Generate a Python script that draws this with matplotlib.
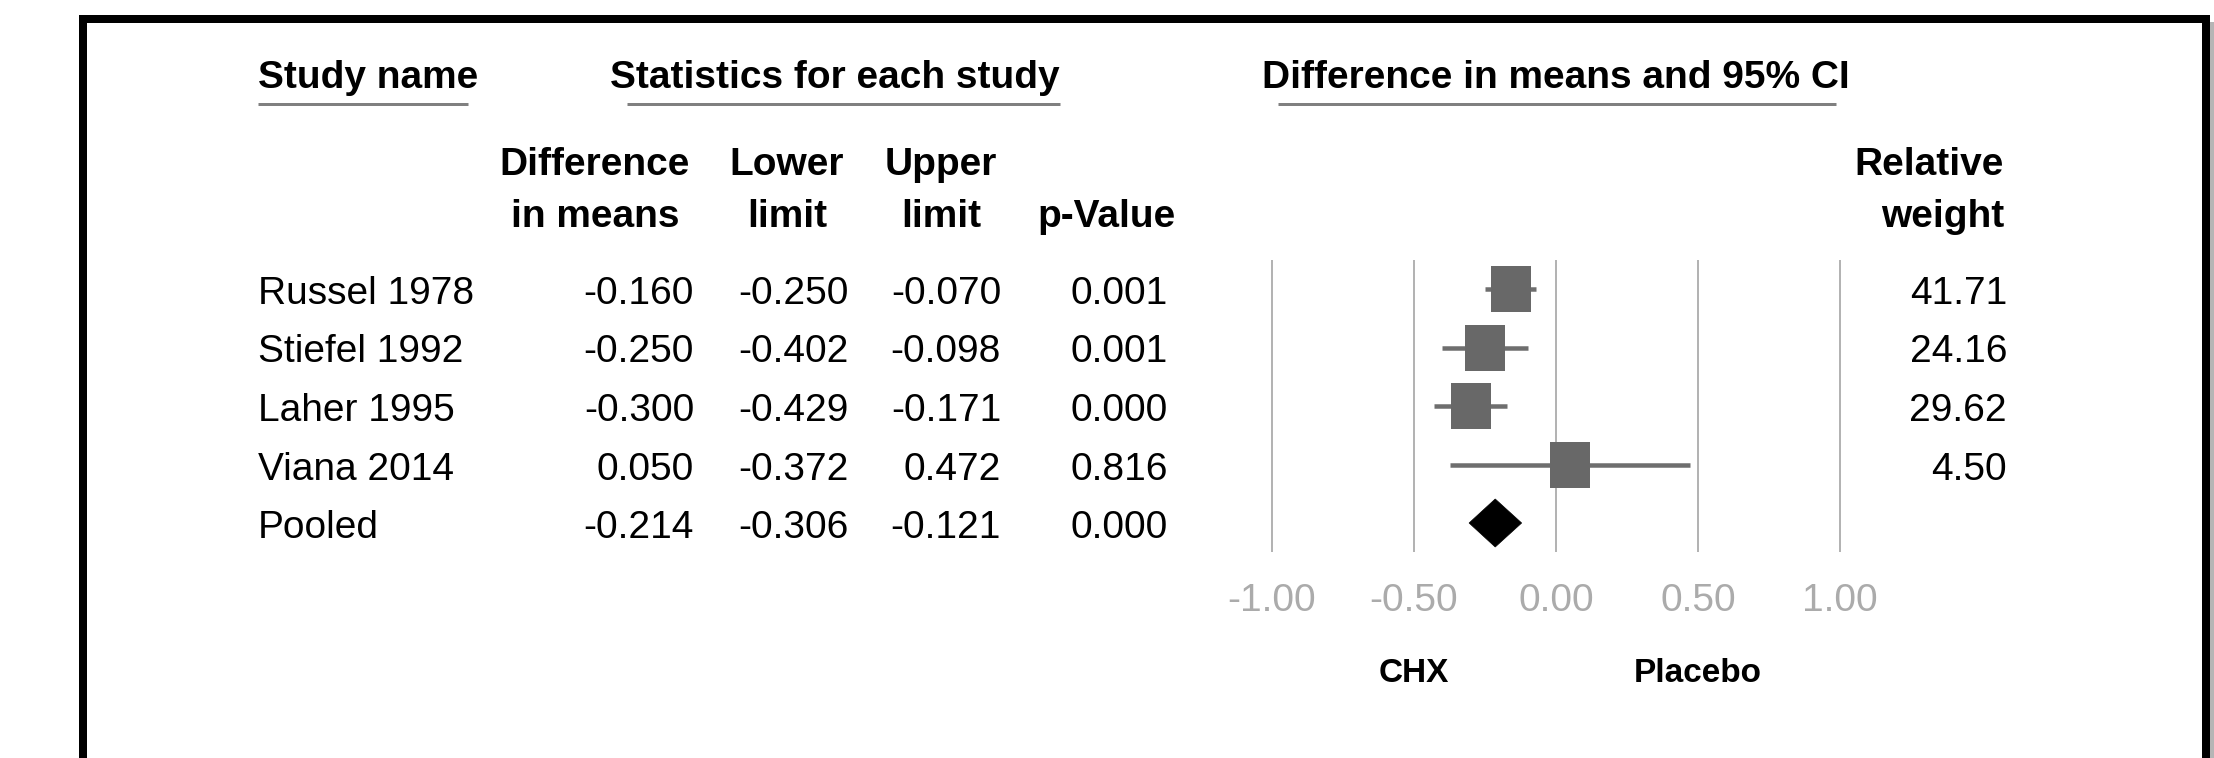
import matplotlib
matplotlib.use('Agg')
import matplotlib.pyplot as plt
from matplotlib.patches import Polygon

# ---------------- data ----------------
studies = ["Russel 1978", "Stiefel 1992", "Laher 1995", "Viana 2014", "Pooled"]
diff = [-0.160, -0.250, -0.300, 0.050, -0.214]
lower = [-0.250, -0.402, -0.429, -0.372, -0.306]
upper = [-0.070, -0.098, -0.171, 0.472, -0.121]
pval = [0.001, 0.001, 0.000, 0.816, 0.000]
weight = [41.71, 24.16, 29.62, 4.50]
ticks = [-1.0, -0.5, 0.0, 0.5, 1.0]
side_labels = ["CHX", "Placebo"]
side_pos = [-0.5, 0.5]

plt.rcParams['font.family'] = ['Liberation Sans', 'DejaVu Sans']

# ---------------- layout ----------------
W, H, DPI = 2214, 758, 100
fig = plt.figure(figsize=(W / DPI, H / DPI), dpi=DPI)
ax = fig.add_axes([0, 0, 1, 1])
X0, UNIT = 1556, 284      # pixel of x=0, pixels per unit of effect
Y0, STEP = 289, 58.5      # pixel of first row, pixels per row
ax.set_xlim((0 - X0) / UNIT, (W - X0) / UNIT)
ax.set_ylim((H - Y0) / STEP, (0 - Y0) / STEP)
ax.axis('off')


def px(x):
    return (x - X0) / UNIT


def py(y):
    return (y - Y0) / STEP


PT = 72.0 / DPI  # points per pixel
FS = 28
BASE = 15 / STEP  # baseline offset from row centre

# frame
ax.plot([px(83), px(83), px(2205.5), px(2205.5)],
        [py(800), py(19), py(19), py(800)],
        color='black', lw=8 * PT, solid_joinstyle='miter', clip_on=False, zorder=5)
ax.plot([px(2211.5), px(2211.5)], [py(24), py(800)], color='#b5b5b5', lw=5 * PT,
        clip_on=False, zorder=4)

# section headers
sec = [("Study name", 258, 258, 468),
       ("Statistics for each study", 610, 627, 1060),
       ("Difference in means and 95% CI", 1262, 1278, 1836)]
for txt, x, u0, u1 in sec:
    ax.text(px(x), py(88), txt, fontsize=FS, fontweight='bold', ha='left', va='baseline')
    ax.plot([px(u0), px(u1)], [py(103.5), py(103.5)], color='#808080', lw=3 * PT,
            solid_capstyle='butt')

# column headers
cols = [("Difference", "in means", 595, 'center'),
        ("Lower", "limit", 787, 'center'),
        ("Upper", "limit", 941, 'center'),
        ("", "p-Value", 1107, 'center'),
        ("Relative", "weight", 2004, 'right')]
for l1, l2, x, ha in cols:
    if l1:
        ax.text(px(x), py(175), l1, fontsize=FS, fontweight='bold', ha=ha, va='baseline')
    ax.text(px(x), py(227), l2, fontsize=FS, fontweight='bold', ha=ha, va='baseline')

# table rows
for i, name in enumerate(studies):
    yb = i + BASE
    ax.text(px(258), yb, name, fontsize=FS, ha='left', va='baseline')
    ax.text(px(694), yb, f"{diff[i]:.3f}", fontsize=FS, ha='right', va='baseline')
    ax.text(px(849), yb, f"{lower[i]:.3f}", fontsize=FS, ha='right', va='baseline')
    ax.text(px(1001), yb, f"{upper[i]:.3f}", fontsize=FS, ha='right', va='baseline')
    ax.text(px(1168), yb, f"{pval[i]:.3f}", fontsize=FS, ha='right', va='baseline')
    if i < len(weight):
        ax.text(px(2007), yb, f"{weight[i]:.2f}", fontsize=FS, ha='right', va='baseline')

# forest plot grid lines
n = len(studies)
ax.vlines(ticks, -0.5, n - 0.5, color='#b3b3b3', lw=2 * PT, zorder=1)
for t in ticks:
    ax.text(t, py(611), f"{t:.2f}", fontsize=FS, color='#ababab', ha='center', va='baseline')
for lab, pos in zip(side_labels, side_pos):
    ax.text(pos, py(682), lab, fontsize=24, fontweight='bold', ha='center', va='baseline')

# study estimates
sq = [(-0.445, -0.5), (0.445, -0.5), (0.445, 0.5), (-0.445, 0.5), (-0.445, -0.5)]
for i in range(len(weight)):
    ax.plot([lower[i], upper[i]], [i, i], color='#6e6e6e', lw=4.5 * PT,
            solid_capstyle='butt', zorder=2)
    ax.plot(diff[i], i, marker=sq, ms=46 * PT, color='#686868', mew=0,
            linestyle='none', zorder=3)

# pooled diamond
k = n - 1
h = 24 / STEP
ax.add_patch(Polygon([(lower[k], k), (diff[k], k - h), (upper[k], k), (diff[k], k + h)],
                     closed=True, facecolor='black', edgecolor='black', lw=0.5, zorder=3))

fig.savefig('out.png', dpi=DPI)
